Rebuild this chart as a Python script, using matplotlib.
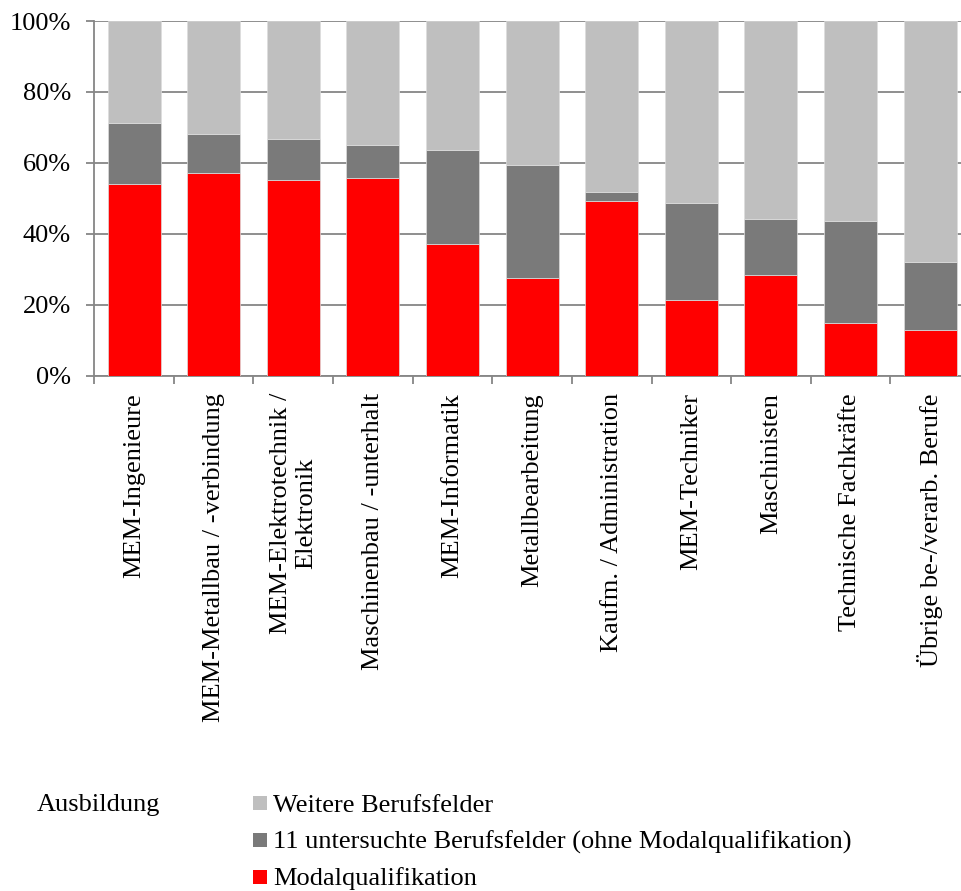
import matplotlib
matplotlib.use("Agg")
import matplotlib.pyplot as plt
from matplotlib.patches import Rectangle
import numpy as np

categories = [
    "MEM-Ingenieure",
    "MEM-Metallbau / -verbindung",
    "MEM-Elektrotechnik /\nElektronik",
    "Maschinenbau / -unterhalt",
    "MEM-Informatik",
    "Metallbearbeitung",
    "Kaufm. / Administration",
    "MEM-Techniker",
    "Maschinisten",
    "Technische Fachkräfte",
    "Übrige be-/verarb. Berufe",
]
# shares in percent
modal = [54.1, 57.1, 55.3, 55.8, 37.2, 27.6, 49.2, 21.4, 28.3, 14.8, 12.9]
untersucht = [17.1, 11.0, 11.4, 9.3, 26.3, 31.7, 2.6, 27.4, 16.0, 28.9, 19.1]
weitere = [28.8, 31.9, 33.3, 34.9, 36.5, 40.7, 48.2, 51.2, 55.7, 56.3, 68.0]
y_ticks = [0, 20, 40, 60, 80, 100]
y_tick_labels = ["0%", "20%", "40%", "60%", "80%", "100%"]
legend_title = "Ausbildung"
legend_labels = ["Weitere Berufsfelder",
                 "11 untersuchte Berufsfelder (ohne Modalqualifikation)",
                 "Modalqualifikation"]

c_red = "#FF0000"
c_dark = "#7A7A7A"
c_light = "#BFBFBF"
c_axis = "#868686"
FONT = "Liberation Serif"
FS = 19

W, H = 962, 891
fig = plt.figure(figsize=(W / 100, H / 100), dpi=100)
plt.rcParams["font.family"] = [FONT, "DejaVu Serif"]

left_px, right_px, top_px, bot_px = 94.3, 969.9, 21.0, 375.7
ax = fig.add_axes([left_px / W, 1 - bot_px / H, (right_px - left_px) / W, (bot_px - top_px) / H])

x = np.arange(len(categories))
bw = 0.666
ec = "#DDDDDD"
ax.bar(x, modal, bw, color=c_red, edgecolor=ec, linewidth=0.5, zorder=3)
ax.bar(x, untersucht, bw, bottom=modal, color=c_dark, edgecolor=ec, linewidth=0.5, zorder=3)
bottom2 = [m + u for m, u in zip(modal, untersucht)]
ax.bar(x, weitere, bw, bottom=bottom2, color=c_light, edgecolor=ec, linewidth=0.5, zorder=3)

ax.set_xlim(-0.5, len(categories) - 0.5)
ax.set_ylim(0, 100)
ax.set_yticks(y_ticks)
ax.set_yticklabels(y_tick_labels, fontsize=FS, family=FONT)
ax.yaxis.grid(True, color=c_axis, linewidth=1.3, zorder=0)
ax.set_axisbelow(True)
ax.tick_params(axis="y", length=5.8, width=1.3, color=c_axis, pad=11)

ax.set_xticks(x)
ax.set_xticklabels(categories, rotation=90, fontsize=FS, family=FONT,
                   ha="center", va="top", multialignment="center", linespacing=1.2)
ax.tick_params(axis="x", which="major", length=0, pad=12.5)
ax.set_xticks(np.arange(-0.5, len(categories) + 0.5, 1.0), minor=True)
ax.tick_params(axis="x", which="minor", length=5.8, width=1.3, color=c_axis)

for s in ["top", "right"]:
    ax.spines[s].set_visible(False)
for s in ["left", "bottom"]:
    ax.spines[s].set_color(c_axis)
    ax.spines[s].set_linewidth(1.3)

# legend
fig.text(37 / W, 1 - 811 / H, legend_title, fontsize=FS, family=FONT, va="baseline", ha="left")
colors = [c_light, c_dark, c_red]
baselines = [811.5, 848.5, 885.5]
for lab, col, bl in zip(legend_labels, colors, baselines):
    sq = 13.5
    cy = bl - 8.5
    fig.patches.append(Rectangle((253 / W, 1 - (cy + sq / 2) / H), sq / W, sq / H,
                                 transform=fig.transFigure, facecolor=col, edgecolor="none"))
    fig.text(273 / W, 1 - bl / H, lab, fontsize=FS, family=FONT, va="baseline", ha="left")

fig.savefig("out.png", dpi=100)
